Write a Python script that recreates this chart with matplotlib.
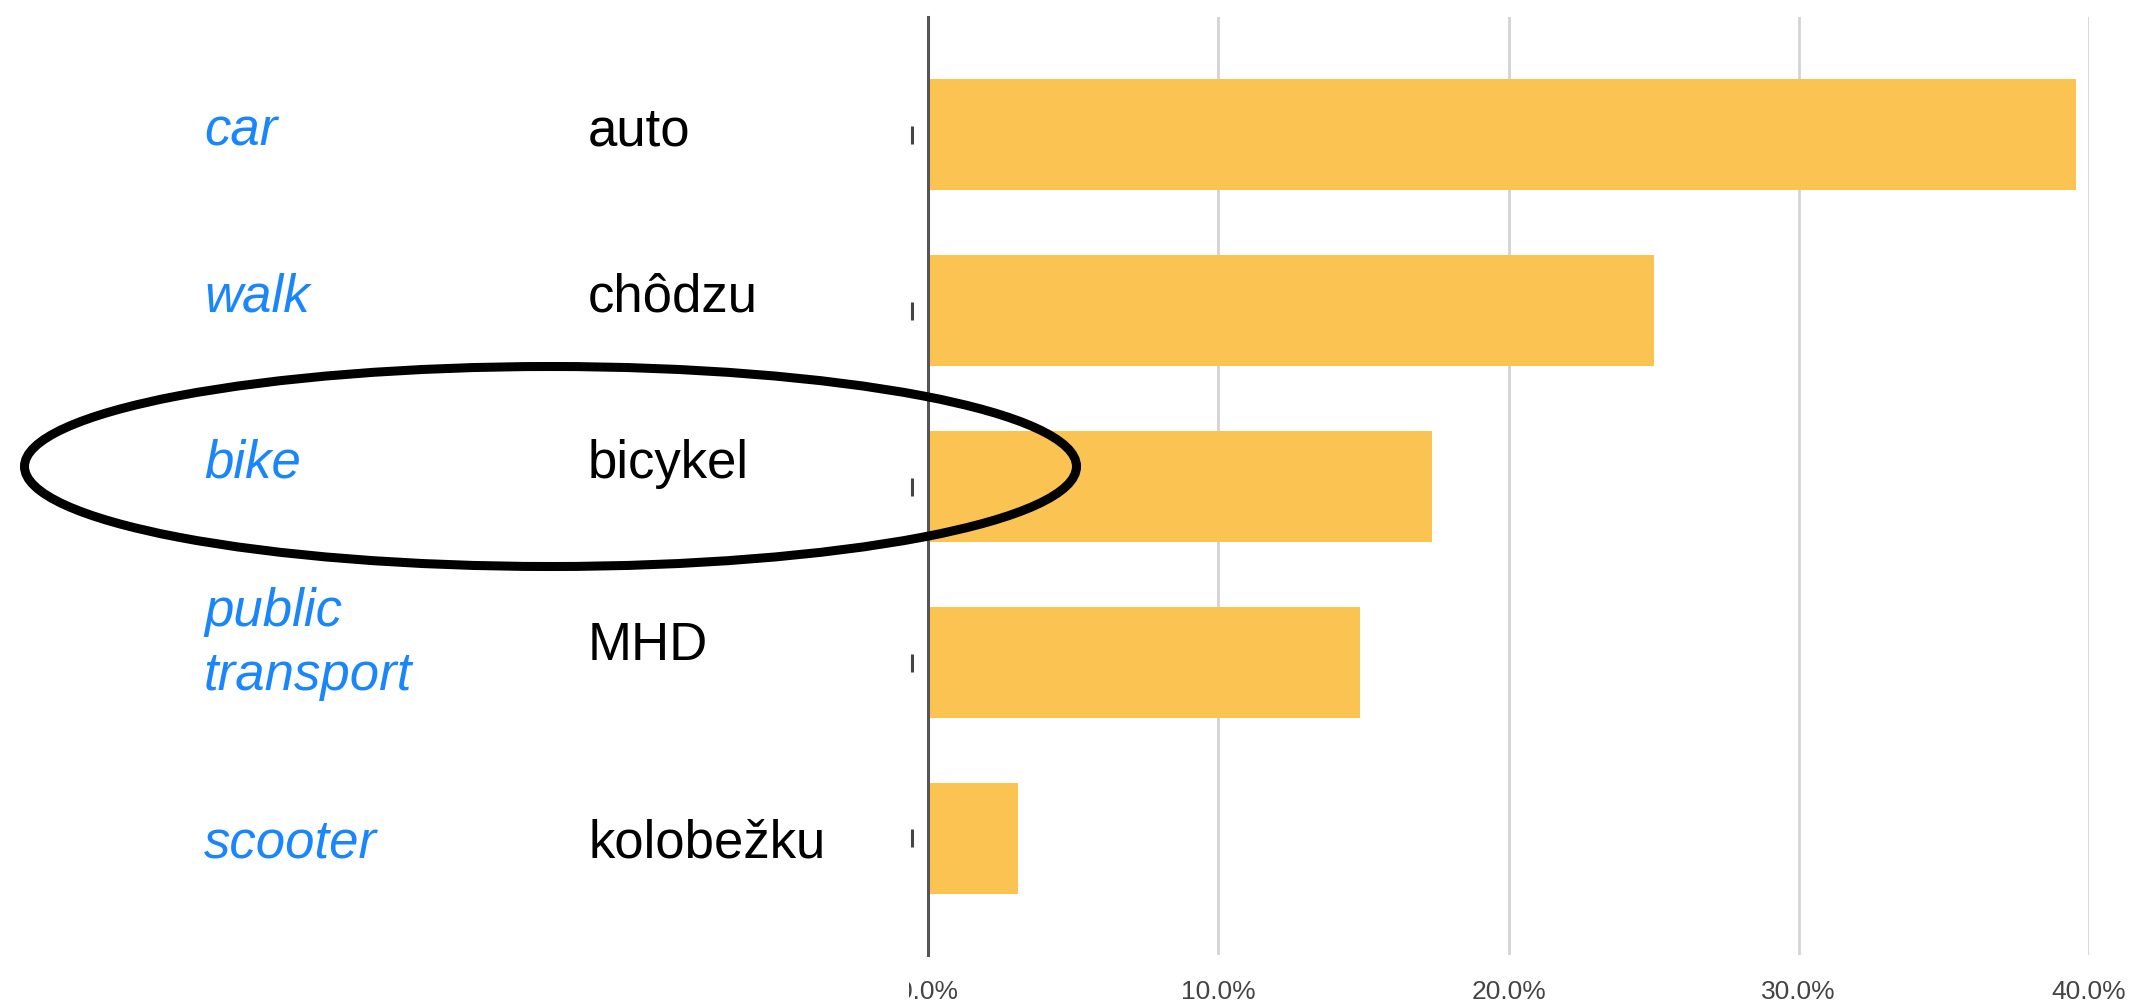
import matplotlib
matplotlib.use("Agg")
import matplotlib.pyplot as plt
from matplotlib.patches import Ellipse, Rectangle

# ---- data ----
english = ["car", "walk", "bike", "public\ntransport", "scooter"]
slovak = ["auto", "chôdzu", "bicykel", "MHD", "kolobežku"]
shares = [39.55, 25.0, 17.35, 14.9, 3.1]          # percent
xticks = [0, 10, 20, 30, 40]
xticklabels = ["0.0%", "10.0%", "20.0%", "30.0%", "40.0%"]

W, H = 2135, 1006
fig = plt.figure(figsize=(W / 100, H / 100), dpi=100)
fig.patch.set_facecolor("white")

# main bar axes (pixel layout -> figure fractions)
ax_left, ax_right, ax_top, ax_bottom = 928, 2089, 17, 955
ax = fig.add_axes([ax_left / W, 1 - ax_bottom / H,
                   (ax_right - ax_left) / W, (ax_bottom - ax_top) / H])
ypos = list(range(len(shares)))
ax.barh(ypos, shares, height=0.63, color="#FAC352", zorder=2)
ax.set_xlim(0, 40)
ax.set_ylim(4.662, -0.668)
ax.set_xticks(xticks)
ax.set_xticklabels(xticklabels, fontsize=19, color="#444444",
                   family="Liberation Sans")
ax.tick_params(axis="x", length=0, pad=18)
ax.set_yticks([])
ax.grid(axis="x", color="#d4d4d4", linewidth=2, zorder=0)
for s in ["top", "right", "bottom"]:
    ax.spines[s].set_visible(False)
ax.spines["left"].set_color("#555555")
ax.spines["left"].set_linewidth(2.2)
ax.spines["left"].set_zorder(3)
# small remnants of the covered category labels
ax.plot([-0.55] * len(ypos), ypos, linestyle="none", marker="|",
        markersize=13, markeredgewidth=2.2, color="#444444", clip_on=False)

# overlay axes in pixel coordinates
ov = fig.add_axes([0, 0, 1, 1], zorder=10)
ov.set_xlim(0, W)
ov.set_ylim(H, 0)
ov.axis("off")
ov.patch.set_alpha(0)
ov.add_patch(Rectangle((0, 0), 909, H, facecolor="white", edgecolor="none", zorder=0))

en_base = [145, 312, 478, 690, 857]
sk_base = [145, 312, 478, 660, 857]
for lab, yb in zip(english, en_base):
    ov.text(204, yb, lab, fontsize=38, style="italic", color="#1a86fc",
            family="Liberation Sans", va="baseline", ha="left",
            linespacing=1.36, zorder=2)
for lab, yb in zip(slovak, sk_base):
    ov.text(588, yb, lab, fontsize=38, color="black",
            family="Liberation Sans", va="baseline", ha="left", zorder=2)

ov.add_patch(Ellipse((550.5, 466.5), 1052, 200, fill=False,
                     edgecolor="black", linewidth=6.5, zorder=3))

fig.savefig("out.png", dpi=100, facecolor="white")
